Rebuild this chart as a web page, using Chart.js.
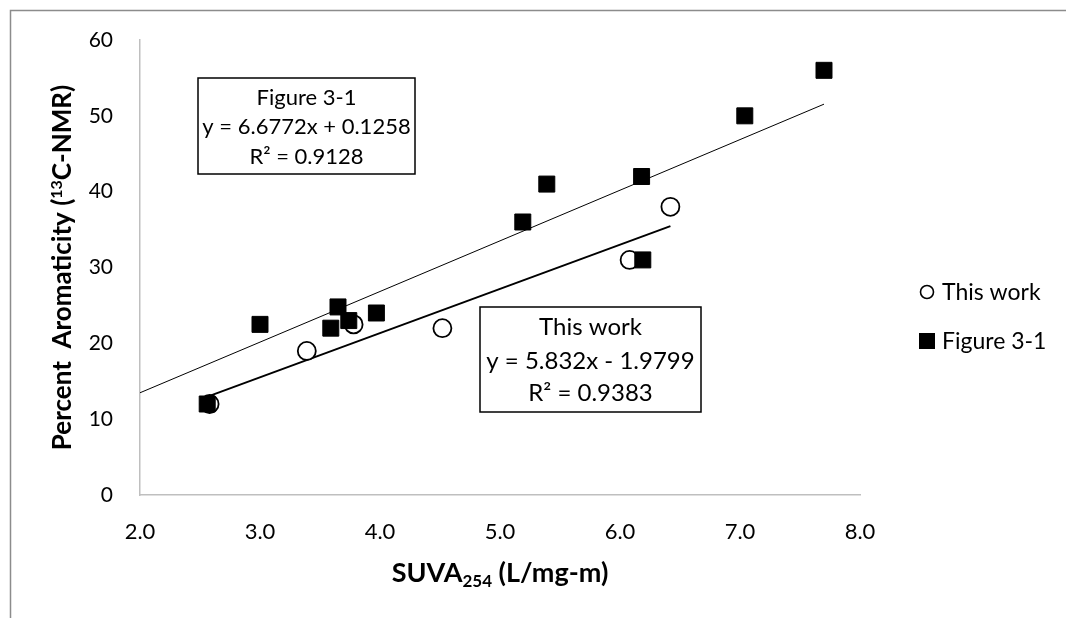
<!DOCTYPE html>
<html lang="en">
<head>
  <meta charset="UTF-8" />
  <title>SUVA254 vs Percent Aromaticity</title>
  <script src="https://cdn.jsdelivr.net/npm/chart.js"></script>
  <style>
    html, body {
      margin: 0;
      padding: 0;
      background: #fff;
    }

    .wrap {
      position: relative;
      width: 1066px;
      height: 618px;
    }
  </style>
</head>

<body>
  <div class="wrap">
    <canvas id="aromChart"></canvas>
  </div>

  <script>
    // measured samples (SUVA254 in L/mg-m, aromaticity in %)
    const thisWorkSuva = [2.58, 3.39, 3.78, 4.52, 6.08, 6.42];
    const thisWorkArom = [12, 19, 22.5, 22, 31, 38];

    const fig31Suva = [2.56, 3.0, 3.59, 3.65, 3.74, 3.97, 5.19, 5.39, 6.18, 6.19, 7.04, 7.7];
    const fig31Arom = [12, 22.5, 22, 24.8, 23, 24, 36, 41, 42, 31, 50, 56];

    // linear fits: [This work, Figure 3-1]
    const seriesNames = ['This work', 'Figure 3-1'];
    const fitSlope = [5.832, 6.6772];
    const fitIntercept = [-1.9799, 0.1258];
    const fitR2 = ['0.9383', '0.9128'];
    const fitFrom = [2.58, 2.0];
    const fitTo = [6.42, 7.7];

    const xTicks = [2, 3, 4, 5, 6, 7, 8];
    const yTicks = [0, 10, 20, 30, 40, 50, 60];

    const FONT = 'Lato, "Open Sans", sans-serif';

    function toPoints(xs, ys) {
      return xs.map((x, i) => ({ x: x, y: ys[i] }));
    }

    function fitLine(i) {
      return [fitFrom[i], fitTo[i]].map(x => ({ x: x, y: fitSlope[i] * x + fitIntercept[i] }));
    }

    function fitText(i) {
      const sign = fitIntercept[i] < 0 ? '-' : '+';
      return 'y = ' + fitSlope[i] + 'x ' + sign + ' ' + Math.abs(fitIntercept[i]);
    }

    // text with a smaller raised/lowered piece in the middle
    function drawMixed(ctx, parts, x, y, align) {
      let total = 0;
      parts.forEach(p => {
        ctx.font = p.font;
        p.w = ctx.measureText(p.text).width;
        total += p.w;
      });
      let cx = align === 'center' ? x - total / 2 : x;
      ctx.textAlign = 'left';
      ctx.textBaseline = 'alphabetic';
      parts.forEach(p => {
        ctx.font = p.font;
        ctx.fillText(p.text, cx, y + (p.dy || 0));
        cx += p.w;
      });
    }

    const extrasPlugin = {
      id: 'extras',
      beforeDraw(chart) {
        const ctx = chart.ctx;
        ctx.save();
        ctx.fillStyle = '#fff';
        ctx.fillRect(0, 0, chart.width, chart.height);
        // outer frame
        ctx.strokeStyle = '#8c8c8c';
        ctx.lineWidth = 1.5;
        ctx.strokeRect(10.5, 10.5, chart.width + 50, chart.height + 50);
        ctx.restore();
      },
      afterDraw(chart) {
        const ctx = chart.ctx;
        const area = chart.chartArea;
        ctx.save();
        ctx.fillStyle = '#000';

        // axis titles
        const bold = s => 'bold ' + s + 'px ' + FONT;
        drawMixed(ctx, [
          { text: 'SUVA', font: bold(27) },
          { text: '254', font: bold(17), dy: 5 },
          { text: ' (L/mg-m)', font: bold(27) }
        ], (area.left + area.right) / 2, 582, 'center');

        ctx.save();
        ctx.translate(71, (area.top + area.bottom) / 2);
        ctx.rotate(-Math.PI / 2);
        drawMixed(ctx, [
          { text: 'Percent  Aromaticity (', font: bold(26) },
          { text: '13', font: bold(16), dy: -9 },
          { text: 'C-NMR)', font: bold(26) }
        ], 0, 0, 'center');
        ctx.restore();

        // equation boxes
        const boxes = [
          { i: 1, x: 198, y: 78, w: 217, h: 96, size: 22, lines: [98, 127, 157] },
          { i: 0, x: 480, y: 307, w: 221, h: 105, size: 24, lines: [327, 361, 393] }
        ];
        boxes.forEach(b => {
          ctx.fillStyle = '#fff';
          ctx.fillRect(b.x, b.y, b.w, b.h);
          ctx.strokeStyle = '#000';
          ctx.lineWidth = 1.5;
          ctx.strokeRect(b.x, b.y, b.w, b.h);
          ctx.fillStyle = '#000';
          ctx.font = b.size + 'px ' + FONT;
          ctx.textAlign = 'center';
          ctx.textBaseline = 'middle';
          const txt = [seriesNames[b.i], fitText(b.i), 'R² = ' + fitR2[b.i]];
          txt.forEach((t, k) => ctx.fillText(t, b.x + b.w / 2, b.lines[k]));
        });

        // legend
        const legendY = [292, 341];
        ctx.font = '23px ' + FONT;
        ctx.textAlign = 'left';
        ctx.textBaseline = 'middle';
        seriesNames.forEach((name, i) => {
          const y = legendY[i];
          if (i === 0) {
            ctx.beginPath();
            ctx.arc(927, y, 6.5, 0, Math.PI * 2);
            ctx.fillStyle = '#fff';
            ctx.fill();
            ctx.strokeStyle = '#000';
            ctx.lineWidth = 1.6;
            ctx.stroke();
          } else {
            ctx.fillStyle = '#000';
            ctx.fillRect(919, y - 8, 16, 16);
          }
          ctx.fillStyle = '#000';
          ctx.fillText(name, 942, y + 1);
        });
        ctx.restore();
      }
    };

    new Chart(document.getElementById('aromChart'), {
      type: 'scatter',
      data: {
        datasets: [
          {
            label: seriesNames[0],
            data: toPoints(thisWorkSuva, thisWorkArom),
            pointStyle: 'circle',
            pointRadius: 9,
            pointBorderWidth: 1.8,
            borderColor: '#000',
            backgroundColor: '#fff',
            order: 1
          },
          {
            label: seriesNames[1],
            data: toPoints(fig31Suva, fig31Arom),
            pointStyle: 'rect',
            pointRadius: 11.3,
            pointBorderWidth: 1,
            borderColor: '#000',
            backgroundColor: '#000',
            order: 0
          },
          {
            label: 'fit ' + seriesNames[0],
            data: fitLine(0),
            showLine: true,
            pointRadius: 0,
            borderColor: '#000',
            borderWidth: 2,
            order: 2
          },
          {
            label: 'fit ' + seriesNames[1],
            data: fitLine(1),
            showLine: true,
            pointRadius: 0,
            borderColor: '#000',
            borderWidth: 1,
            order: 3
          }
        ]
      },
      options: {
        responsive: true,
        maintainAspectRatio: false,
        animation: false,
        layout: {
          padding: { left: 0, top: 40, right: 206, bottom: 0 }
        },
        plugins: {
          legend: { display: false },
          tooltip: { enabled: false }
        },
        scales: {
          x: {
            type: 'linear',
            min: xTicks[0],
            max: xTicks[xTicks.length - 1],
            afterFit: s => { s.height = 123; },
            grid: { display: false, drawTicks: false },
            border: { display: true, color: '#bfbfbf', width: 1.5 },
            ticks: {
              stepSize: xTicks[1] - xTicks[0],
              padding: 24,
              color: '#000',
              font: { family: FONT, size: 22 },
              callback: v => v.toFixed(1)
            }
          },
          y: {
            type: 'linear',
            min: yTicks[0],
            max: yTicks[yTicks.length - 1],
            afterFit: s => { s.width = 140; },
            grid: { display: false, drawTicks: false },
            border: { display: true, color: '#bfbfbf', width: 1.5 },
            ticks: {
              stepSize: yTicks[1] - yTicks[0],
              padding: 27,
              color: '#000',
              font: { family: FONT, size: 21 }
            }
          }
        }
      },
      plugins: [extrasPlugin]
    });
  </script>
</body>

</html>
